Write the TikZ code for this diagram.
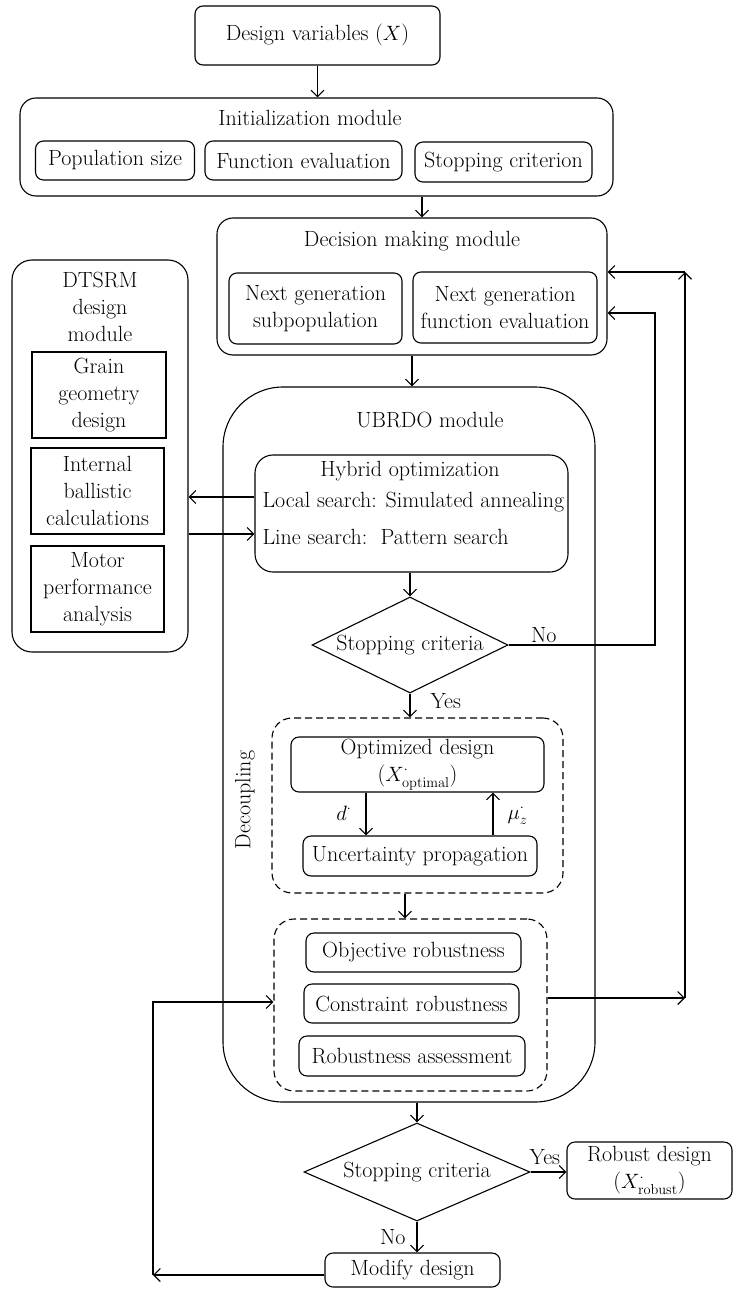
\documentclass[tikz,border=0pt]{standalone}
\usepackage{amsmath}
\usetikzlibrary{shapes.geometric, arrows.meta, positioning}

\begin{document}
\begin{tikzpicture}[x=1pt, y=1pt, line width=1.1pt,
  every node/.style={font=\fontsize{22}{27}\selectfont, inner sep=0pt},
  >={Straight Barb[length=6.5pt,width=13pt]},
  box/.style={draw, rounded corners=8pt, align=center},
  module/.style={draw, rounded corners=16pt},
  plainbox/.style={draw, align=center},
  decide/.style={draw, diamond, align=center},
  dashbox/.style={draw, dash pattern=on 7pt off 4pt, rounded corners=20pt},
  lbl/.style={inner sep=2pt}]
\useasboundingbox (0,0) rectangle (734,-1289);

\node[box, minimum width=245pt, minimum height=59pt] (design) at (317.5,-35.5) {Design variables ($X$)};

\node[module, minimum width=593pt, minimum height=98pt] (init) at (316.5,-147) {};
\node (initT) at (310,-118) {Initialization module};
\node[box, minimum width=159pt, minimum height=39pt] (popsize) at (115,-160.5) {Population size};
\node[box, minimum width=197pt, minimum height=39pt] (funeval) at (303.5,-160.5) {Function evaluation};
\node[box, minimum width=177pt, minimum height=40pt] (stopcrit) at (503.5,-162) {Stopping criterion};

\node[module, minimum width=390pt, minimum height=137pt] (decision) at (412,-286.5) {};
\node (decisionT) at (412,-241) {Decision making module};
\node[box, minimum width=173pt, minimum height=71pt] (ngsub) at (315.5,-308.5) {Next generation\\subpopulation};
\node[box, minimum width=184pt, minimum height=71pt] (ngfun) at (505,-307.5) {Next generation\\function evaluation};

\node[draw, rounded corners=20pt, minimum width=176pt, minimum height=392pt] (dtsrm) at (100,-456) {};
\node[align=center] (dtsrmT) at (100,-307) {DTSRM\\design\\module};
\node[plainbox, minimum width=134pt, minimum height=86pt] (grain) at (99,-395) {Grain\\geometry\\design};
\node[plainbox, minimum width=133pt, minimum height=86pt] (ballistic) at (97.5,-491) {Internal\\ballistic\\calculations};
\node[plainbox, minimum width=133pt, minimum height=86pt] (motor) at (97.5,-589) {Motor\\performance\\analysis};

\node[draw, rounded corners=60pt, minimum width=372pt, minimum height=715pt] (ubrdo) at (409,-744.5) {};
\node (ubrdoT) at (430,-420) {UBRDO module};

\node[draw, rounded corners=18pt, minimum width=313pt, minimum height=117pt] (hybrid) at (411.5,-513.5) {};
\node (hybridT) at (410,-471) {Hybrid optimization};
\node[anchor=west] (localS) at (262,-502) {Local search: Simulated annealing};
\node[anchor=west] (lineS) at (262,-537) {Line search:\ \ Pattern search};

\node[decide, aspect=2.05, minimum width=196pt, minimum height=96pt] (stopA) at (410,-645) {Stopping criteria};

\node[dashbox, minimum width=291pt, minimum height=175pt] (decouple) at (417.5,-805.5) {};
\node[rotate=90] (decoupleT) at (245,-800) {Decoupling};
\node[box, minimum width=253pt, minimum height=55pt] (optd) at (417.5,-764.5) {Optimized design\\($X^{\cdot}_{\mathrm{optimal}}$)};
\node[box, minimum width=234pt, minimum height=40pt] (uncprop) at (420,-856) {Uncertainty propagation};

\node[dashbox, minimum width=273pt, minimum height=172pt] (robmod) at (410.5,-1005) {};
\node[box, minimum width=215pt, minimum height=39pt] (objrob) at (413.5,-952.5) {Objective robustness};
\node[box, minimum width=215pt, minimum height=39pt] (conrob) at (411.5,-1003.5) {Constraint robustness};
\node[box, minimum width=226pt, minimum height=40pt] (robass) at (412,-1056) {Robustness assessment};

\node[decide, aspect=2.3, minimum width=226pt, minimum height=98pt] (stopB) at (417,-1172) {Stopping criteria};
\node[box, minimum width=165pt, minimum height=57pt] (robust) at (649.5,-1170.5) {Robust design\\($X^{\cdot}_{\mathrm{robust}}$)};
\node[box, minimum width=175pt, minimum height=34pt] (modify) at (412.5,-1270) {Modify design};

\coordinate (noA) at (655,-645);
\coordinate (fbR) at (685,-998);
\coordinate (fbT) at (685,-272);
\coordinate (back) at (153,-1275);

\draw[->] (design.south) -- (design.south |- init.north);
\draw[->] ([xshift=10pt]decision.north |- init.south) -- ([xshift=10pt]decision.north);
\draw[->] (decision.south) -- (decision.south |- ubrdo.north);
\draw[->] ([yshift=16.5pt]hybrid.west) -- ([yshift=16.5pt]hybrid.west -| dtsrm.east);
\draw[->] ([yshift=-20.5pt]hybrid.west -| dtsrm.east) -- ([yshift=-20.5pt]hybrid.west);
\draw[->] (stopA.north |- hybrid.south) -- (stopA.north);
\draw[->] (stopA.east) -- node[lbl, above, pos=.24] (noLA) {No} (noA) |- ([yshift=-26.5pt]decision.east);
\draw[->] (stopA.south) -- node[lbl, right=18pt, pos=.3] (yesLA) {Yes} (stopA.south |- decouple.north);
\draw[->] ([xshift=-51.5pt]optd.south) -- node[lbl, left=12pt, pos=.48] (dLbl) {$d^{\cdot}$} ([xshift=-51.5pt]optd.south |- uncprop.north);
\draw[->] ([xshift=75.5pt]optd.south |- uncprop.north) -- node[lbl, right=12pt, pos=.48] (muLbl) {$\mu^{\cdot}_{z}$} ([xshift=75.5pt]optd.south);
\draw[->] ([xshift=-12.5pt]decouple.south) -- ([xshift=-12.5pt]decouple.south |- robmod.north);
\draw[->] ([yshift=7pt]robmod.east) -- (fbR);
\draw[->] (fbR) -- (fbT);
\draw[->] (fbT) -- (fbT -| decision.east);
\draw[->] (stopB.north |- ubrdo.south) -- (stopB.north);
\draw[->] (stopB.east) -- node[lbl, above=5pt, pos=.4] (yesLB) {Yes} (stopB.east -| robust.west);
\draw[->] (stopB.south) -- node[lbl, anchor=east, xshift=-9pt, pos=.5] (noLB) {No} (stopB.south |- modify.north);
\draw[->] ([yshift=-5pt]modify.west) -- (back);
\draw[->] (back) |- ([yshift=3pt]robmod.west);
\end{tikzpicture}
\end{document}
